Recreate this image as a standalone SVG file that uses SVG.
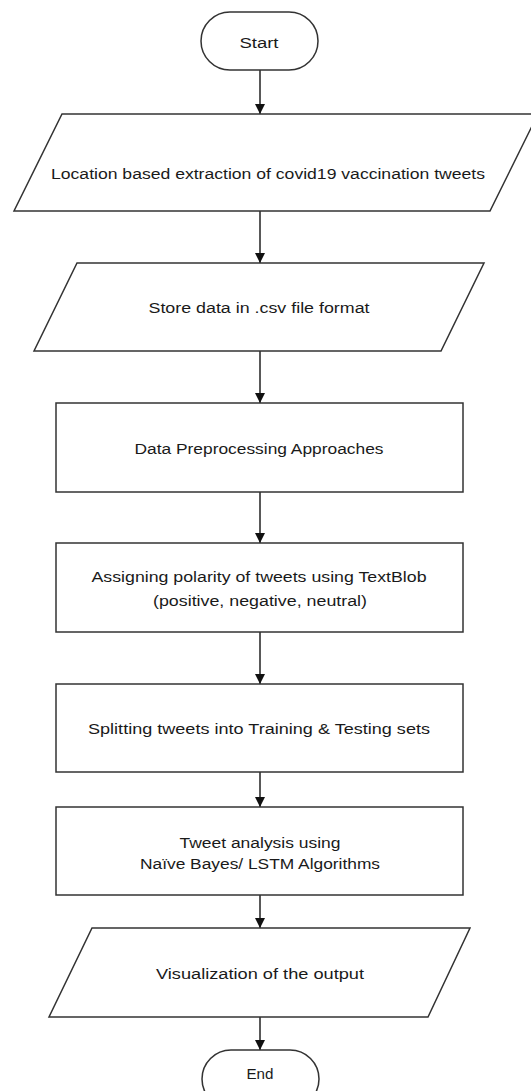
<svg xmlns="http://www.w3.org/2000/svg" width="531" height="1091" viewBox="0 0 531 1091">
<style>
.s{fill:#fff;stroke:#333;stroke-width:1.5}
.t{font-family:"Liberation Sans",Arial,sans-serif;font-size:15.5px;fill:#1a1a1a;text-anchor:middle;dominant-baseline:central}
.c{stroke:#222;stroke-width:1.5;fill:none}
</style>
<defs>
<marker id="ah" viewBox="0 0 10 10" refX="10" refY="5" markerWidth="10" markerHeight="10" markerUnits="userSpaceOnUse" orient="auto">
<path d="M0,0 L10,5 L0,10 z" fill="#111"/>
</marker>
</defs>
<rect width="531" height="1091" fill="#fff"/>
<g id="connectors">
<line class="c" x1="260" y1="70" x2="260" y2="114" marker-end="url(#ah)"/>
<line class="c" x1="260" y1="211" x2="260" y2="263" marker-end="url(#ah)"/>
<line class="c" x1="260" y1="351" x2="260" y2="403" marker-end="url(#ah)"/>
<line class="c" x1="260" y1="492" x2="260" y2="543" marker-end="url(#ah)"/>
<line class="c" x1="260" y1="632" x2="260" y2="684" marker-end="url(#ah)"/>
<line class="c" x1="260" y1="772" x2="260" y2="807" marker-end="url(#ah)"/>
<line class="c" x1="260" y1="895" x2="260" y2="928" marker-end="url(#ah)"/>
<line class="c" x1="260" y1="1017" x2="260" y2="1050" marker-end="url(#ah)"/>
</g>
<g id="start">
<rect class="s" x="201" y="12" width="117" height="58" rx="29" ry="29"/>
<text class="t" x="259" y="42" textLength="39" lengthAdjust="spacingAndGlyphs">Start</text>
</g>
<g id="extract">
<polygon class="s" points="62,114 538,114 490,211 14,211"/>
<text class="t" x="268" y="173" textLength="434" lengthAdjust="spacingAndGlyphs">Location based extraction of covid19 vaccination tweets</text>
</g>
<g id="store">
<polygon class="s" points="77,263 484,263 441,351 34,351"/>
<text class="t" x="259" y="307" textLength="221" lengthAdjust="spacingAndGlyphs">Store data in .csv file format</text>
</g>
<g id="preprocess">
<rect class="s" x="56" y="403" width="407" height="89"/>
<text class="t" x="259" y="448" textLength="249" lengthAdjust="spacingAndGlyphs">Data Preprocessing Approaches</text>
</g>
<g id="polarity">
<rect class="s" x="56" y="543" width="407" height="89"/>
<text class="t" x="259" y="576" textLength="335" lengthAdjust="spacingAndGlyphs">Assigning polarity of tweets using TextBlob</text>
<text class="t" x="260" y="600" textLength="214" lengthAdjust="spacingAndGlyphs">(positive, negative, neutral)</text>
</g>
<g id="split">
<rect class="s" x="56" y="684" width="407" height="88"/>
<text class="t" x="259" y="728" textLength="342" lengthAdjust="spacingAndGlyphs">Splitting tweets into Training &amp; Testing sets</text>
</g>
<g id="analysis">
<rect class="s" x="56" y="807" width="407" height="88"/>
<text class="t" x="260" y="842" textLength="161" lengthAdjust="spacingAndGlyphs">Tweet analysis using</text>
<text class="t" x="260" y="863" textLength="240" lengthAdjust="spacingAndGlyphs">Naïve Bayes/ LSTM Algorithms</text>
</g>
<g id="visualize">
<polygon class="s" points="92,928 470,928 428,1017 49,1017"/>
<text class="t" x="260" y="973" textLength="208" lengthAdjust="spacingAndGlyphs">Visualization of the output</text>
</g>
<g id="end">
<rect class="s" x="202" y="1050" width="117" height="58" rx="29" ry="29"/>
<text class="t" x="260" y="1073" textLength="27" lengthAdjust="spacingAndGlyphs">End</text>
</g>
</svg>
